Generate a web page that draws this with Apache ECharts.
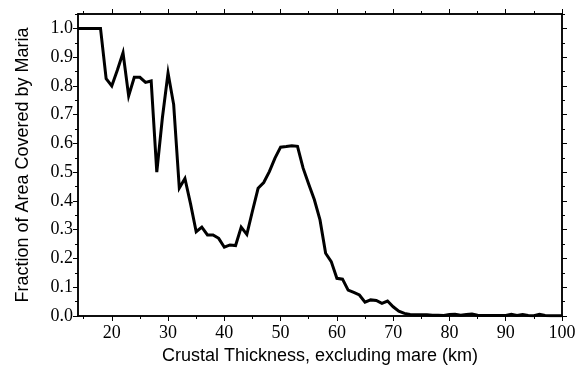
<!DOCTYPE html>
<html>
<head>
<meta charset="utf-8">
<script src="https://cdn.jsdelivr.net/npm/echarts@6/dist/echarts.min.js"></script>
<style>
  html, body { margin: 0; padding: 0; background: #fff; }
  #chart { width: 587px; height: 372px; }
</style>
</head>
<body>
<div id="chart"></div>
<script>
// crustal thickness (km), one value per km
const thickness = [];
for (let k = 14; k <= 100; k++) thickness.push(k);

// fraction of area covered by maria
const fraction = [
  1.0, 1.0, 1.0, 1.0, 1.0,                 // 14-18
  0.825, 0.80, 0.855, 0.915, 0.765,        // 19-23
  0.83, 0.83, 0.812, 0.817, 0.50,          // 24-28
  0.69, 0.845, 0.735, 0.445, 0.478,        // 29-33
  0.39, 0.293, 0.309, 0.282, 0.282,        // 34-38
  0.27, 0.239, 0.247, 0.245, 0.309,        // 39-43
  0.284, 0.365, 0.444, 0.464, 0.502,       // 44-48
  0.549, 0.587, 0.589, 0.592, 0.590,       // 49-53
  0.514, 0.458, 0.404, 0.334, 0.218,       // 54-58
  0.189, 0.131, 0.128, 0.09, 0.082,        // 59-63
  0.073, 0.048, 0.056, 0.054, 0.044,       // 64-68
  0.052, 0.032, 0.017, 0.009, 0.005,       // 69-73
  0.004, 0.004, 0.004, 0.003, 0.003,       // 74-78
  0.002, 0.005, 0.006, 0.003, 0.005,       // 79-83
  0.007, 0.003, 0.002, 0.002, 0.002,       // 84-88
  0.002, 0.002, 0.006, 0.002, 0.005,       // 89-93
  0.002, 0.001, 0.006, 0.002, 0.001,       // 94-98
  0.001, 0.001                             // 99-100
];

// tick positions
const xMajor = [20, 30, 40, 50, 60, 70, 80, 90, 100];
const xMinor = [15, 25, 35, 45, 55, 65, 75, 85, 95];
const yMajor = [0, 0.1, 0.2, 0.3, 0.4, 0.5, 0.6, 0.7, 0.8, 0.9, 1.0];
const yMinor = [0.05, 0.15, 0.25, 0.35, 0.45, 0.55, 0.65, 0.75, 0.85, 0.95, 1.05];

const X_MIN = 14, X_MAX = 100, Y_MIN = 0, Y_MAX = 1.05;

const labelFont = { fontFamily: 'Liberation Serif', fontSize: 18, color: '#000' };
const nameFont = { fontFamily: 'Liberation Sans', fontSize: 18, color: '#000' };

// helper: an axis that only draws ticks (and maybe the line/labels)
function xAx(pos, ticks, len, opts) {
  return Object.assign({
    type: 'value', position: pos, min: X_MIN, max: X_MAX,
    axisLine: { show: true, onZero: false, lineStyle: { color: '#000', width: 1.5 } },
    axisTick: { show: true, inside: false, length: len, customValues: ticks, lineStyle: { color: '#000', width: 1 } },
    axisLabel: { show: false },
    splitLine: { show: false }
  }, opts || {});
}
function yAx(pos, ticks, len, opts) {
  return Object.assign({
    type: 'value', position: pos, min: Y_MIN, max: Y_MAX,
    axisLine: { show: true, onZero: false, lineStyle: { color: '#000', width: 1.5 } },
    axisTick: { show: true, inside: false, length: len, customValues: ticks, lineStyle: { color: '#000', width: 1 } },
    axisLabel: { show: false },
    splitLine: { show: false }
  }, opts || {});
}

const chart = echarts.init(document.getElementById('chart'), null, { renderer: 'canvas' });

chart.setOption({
  animation: false,
  backgroundColor: '#fff',
  grid: { left: 78, right: 25, top: 14, bottom: 56, containLabel: false },
  xAxis: [
    xAx('bottom', xMajor, 5, {
      name: 'Crustal Thickness, excluding mare (km)',
      nameLocation: 'middle', nameGap: 31, nameTextStyle: nameFont,
      axisLabel: Object.assign({ show: true, margin: 8, customValues: xMajor }, labelFont)
    }),
    xAx('bottom', xMinor, 3),
    xAx('top', xMajor, 5),
    xAx('top', xMinor, 3)
  ],
  yAxis: [
    yAx('left', yMajor, 5, {
      name: 'Fraction of Area Covered by Maria',
      nameLocation: 'middle', nameGap: 46, nameTextStyle: nameFont,
      axisLabel: Object.assign({ show: true, margin: 5, customValues: yMajor,
        formatter: v => v.toFixed(1) }, labelFont)
    }),
    yAx('left', yMinor, 3),
    yAx('right', yMajor, 5),
    yAx('right', yMinor, 3)
  ],
  series: [{
    type: 'line',
    xAxisIndex: 0,
    yAxisIndex: 0,
    data: thickness.map((t, i) => [t, fraction[i]]),
    showSymbol: false,
    symbol: 'none',
    lineStyle: { color: '#000', width: 3, join: 'miter' },
    clip: true
  }]
});
</script>
</body>
</html>
